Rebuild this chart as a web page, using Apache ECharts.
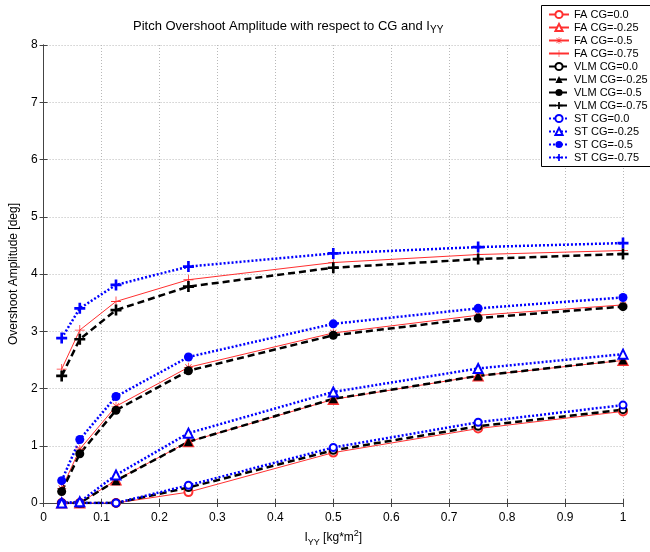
<!DOCTYPE html>
<html>
<head>
<meta charset="utf-8">
<script src="https://cdn.jsdelivr.net/npm/echarts@6/dist/echarts.min.js"></script>
<style>html,body{margin:0;padding:0;background:#fff}#c{width:650px;height:552px}</style>
</head>
<body>
<div id="c"></div>
<script>
const xValues = [0.03125, 0.0625, 0.125, 0.25, 0.5, 0.75, 1.0];
const xTicks = ['0','0.1','0.2','0.3','0.4','0.5','0.6','0.7','0.8','0.9','1'];
const yTicks = ['0','1','2','3','4','5','6','7','8'];

const faCG0    = [0, 0, 0, 0.19, 0.88, 1.30, 1.60];
const faCG025  = [0, 0, 0.40, 1.07, 1.81, 2.22, 2.49];
const faCG05   = [0.25, 0.94, 1.69, 2.37, 2.97, 3.28, 3.46];
const faCG075  = [2.34, 3.02, 3.52, 3.90, 4.20, 4.34, 4.41];
const vlmCG0   = [0, 0, 0, 0.27, 0.92, 1.34, 1.63];
const vlmCG025 = [0, 0, 0.39, 1.07, 1.82, 2.22, 2.50];
const vlmCG05  = [0.20, 0.86, 1.62, 2.31, 2.93, 3.23, 3.43];
const vlmCG075 = [2.22, 2.86, 3.37, 3.78, 4.11, 4.26, 4.35];
const stCG0    = [0, 0, 0, 0.31, 0.97, 1.41, 1.71];
const stCG025  = [0, 0.02, 0.49, 1.22, 1.94, 2.35, 2.60];
const stCG05   = [0.39, 1.11, 1.86, 2.55, 3.13, 3.40, 3.59];
const stCG075  = [2.88, 3.40, 3.81, 4.13, 4.36, 4.47, 4.54];

const names = ['FA CG=0.0','FA CG=-0.25','FA CG=-0.5','FA CG=-0.75',
  'VLM CG=0.0','VLM CG=-0.25','VLM CG=-0.5','VLM CG=-0.75',
  'ST CG=0.0','ST CG=-0.25','ST CG=-0.5','ST CG=-0.75'];
const values = [faCG0, faCG025, faCG05, faCG075, vlmCG0, vlmCG025, vlmCG05, vlmCG075, stCG0, stCG025, stCG05, stCG075];

const plusThin = 'path://M4.6,0 H5.4 V4.6 H10 V5.4 H5.4 V10 H4.6 V5.4 H0 V4.6 H4.6 Z';
const plusThick = 'path://M3.8,0 H6.2 V3.8 H10 V6.2 H6.2 V10 H3.8 V6.2 H0 V3.8 H3.8 Z';
const star = 'path://M4.6,0 H5.4 V4.6 H10 V5.4 H5.4 V10 H4.6 V5.4 H0 V4.6 H4.6 Z M1.78,1.22 L8.78,8.22 L8.22,8.78 L1.22,1.78 Z M8.78,1.78 L1.78,8.78 L1.22,8.22 L8.22,1.22 Z';

const RED = '#ff3030', BLACK = '#000000', BLUE = '#0000ff';
const styles = [
  {c: RED, w: 1, t: 'solid', s: 'emptyCircle', sz: 8, bw: 1},
  {c: RED, w: 1, t: 'solid', s: 'emptyTriangle', sz: 9, bw: 1},
  {c: RED, w: 1, t: 'solid', s: star, sz: 9, bw: 0},
  {c: RED, w: 1, t: 'solid', s: plusThin, sz: 10, bw: 0},
  {c: BLACK, w: 2.5, t: [7,4], s: 'emptyCircle', sz: 7, bw: 2.5},
  {c: BLACK, w: 2.5, t: [7,4], s: 'triangle', sz: 9, bw: 0},
  {c: BLACK, w: 2.5, t: [7,4], s: 'circle', sz: 9, bw: 0},
  {c: BLACK, w: 2.5, t: [7,4], s: plusThick, sz: 11, bw: 0},
  {c: BLUE, w: 2.5, t: [2,2], s: 'emptyCircle', sz: 7, bw: 2.5},
  {c: BLUE, w: 2.5, t: [2,2], s: 'emptyTriangle', sz: 9, bw: 2},
  {c: BLUE, w: 2.5, t: [2,2], s: 'circle', sz: 9, bw: 0},
  {c: BLUE, w: 2.5, t: [2,2], s: plusThick, sz: 11, bw: 0}
];

const series = names.map((n, i) => ({
  name: n,
  type: 'line',
  data: xValues.map((x, k) => [x, values[i][k]]),
  symbol: styles[i].s,
  symbolSize: styles[i].sz,
  showAllSymbol: true,
  lineStyle: {color: styles[i].c, width: styles[i].w, type: styles[i].t},
  itemStyle: {color: styles[i].c, borderColor: styles[i].c, borderWidth: styles[i].bw},
  emphasis: {disabled: true},
  xAxisIndex: 0, yAxisIndex: 0
}));

const FONT = 'Arial, "Liberation Sans", sans-serif';
const chart = echarts.init(document.getElementById('c'), null, {renderer: 'canvas'});
chart.setOption({
  animation: false,
  backgroundColor: '#fff',
  textStyle: {fontFamily: FONT},
  title: {
    text: '{a|Pitch Overshoot Amplitude with respect to CG and I}{s|YY}',
    left: 128, top: 12,
    textStyle: {
      fontWeight: 'normal',
      rich: {
        a: {fontSize: 13, fontWeight: 'normal', fontFamily: FONT, color: '#000', lineHeight: 18, verticalAlign: 'middle'},
        s: {fontSize: 10, fontWeight: 'normal', fontFamily: FONT, color: '#000', lineHeight: 10, verticalAlign: 'bottom'}
      }
    }
  },
  graphic: [{
    type: 'rect', z: 3,
    shape: {x: 541.5, y: 5.5, width: 130, height: 161},
    style: {fill: '#fff', stroke: '#000', lineWidth: 1}
  }],
  legend: {
    z: 5,
    orient: 'vertical',
    left: 542, top: 7,
    padding: [2, 0, 2, 6],
    itemWidth: 20, itemHeight: 9, itemGap: 2,
    textStyle: {fontSize: 11, fontFamily: FONT, color: '#000', lineHeight: 10},
    data: names
  },
  grid: {left: 42, right: 27, top: 45, bottom: 48, containLabel: false},
  xAxis: [{
    type: 'value', min: 0, max: 1, interval: 0.1,
    name: '{a|I}{s|YY}{a| [kg*m}{p|2}{a|]}',
    nameLocation: 'middle', nameGap: 26,
    nameTextStyle: {
      rich: {
        a: {fontSize: 12, fontFamily: FONT, color: '#000', lineHeight: 18, verticalAlign: 'middle'},
        s: {fontSize: 9, fontFamily: FONT, color: '#000', lineHeight: 9, verticalAlign: 'bottom'},
        p: {fontSize: 9, fontFamily: FONT, color: '#000', lineHeight: 9, verticalAlign: 'top'}
      }
    },
    axisLine: {show: true, lineStyle: {color: '#444', width: 1}},
    axisTick: {show: true, inside: true, length: 4, lineStyle: {color: '#444'}},
    axisLabel: {fontSize: 12, color: '#000', margin: 9, fontFamily: FONT,
      formatter: (v) => xTicks[Math.round(v * 10)]},
    splitLine: {show: true, lineStyle: {color: '#b8b8b8', type: [1, 2], width: 1}}
  }, {
    type: 'value', min: 0, max: 1, interval: 0.1, position: 'top',
    axisLine: {show: true, lineStyle: {color: '#444', width: 1}},
    axisTick: {show: true, inside: true, length: 4, lineStyle: {color: '#444'}},
    axisLabel: {show: false}, splitLine: {show: false}
  }],
  yAxis: [{
    type: 'value', min: 0, max: 8, interval: 1,
    name: 'Overshoot Amplitude [deg]',
    nameLocation: 'middle', nameGap: 18,
    nameTextStyle: {fontSize: 12, color: '#000', fontFamily: FONT},
    axisLine: {show: true, lineStyle: {color: '#444', width: 1}},
    axisTick: {show: true, inside: true, length: 4, lineStyle: {color: '#444'}},
    axisLabel: {fontSize: 12, color: '#000', margin: 6, fontFamily: FONT,
      formatter: (v) => yTicks[Math.round(v)]},
    splitLine: {show: true, lineStyle: {color: '#b8b8b8', type: [1, 2], width: 1}}
  }, {
    type: 'value', min: 0, max: 8, interval: 1, position: 'right',
    axisLine: {show: true, lineStyle: {color: '#444', width: 1}},
    axisTick: {show: true, inside: true, length: 4, lineStyle: {color: '#444'}},
    axisLabel: {show: false}, splitLine: {show: false}
  }],
  series: series
});
</script>
</body>
</html>
